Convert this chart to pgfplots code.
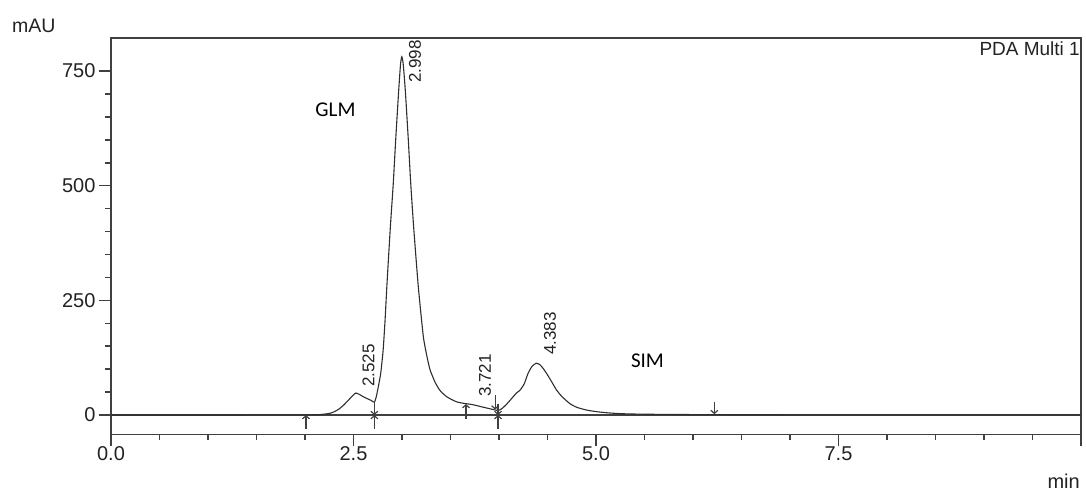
\documentclass[border=0pt]{standalone}
\usepackage{fontspec}
\setmainfont{Liberation Sans}
\newfontfamily\calibri{Carlito}
\usepackage{pgfplots}
\pgfplotsset{compat=1.18}
\usetikzlibrary{arrows.meta}
\definecolor{axisgray}{HTML}{404040}
\definecolor{tracegray}{HTML}{2E2E2E}
\definecolor{labelgray}{HTML}{222222}

\tikzset{
  peaklabel/.style={rotate=90, anchor=west, inner sep=0pt,
    font=\fontsize{17bp}{20bp}\selectfont, text=labelgray},
  compound/.style={font=\calibri\fontsize{21bp}{25bp}\selectfont},
}
\pgfplotsset{
  marker/.style={draw=axisgray, line width=1.2bp, mark=none,
    -{Straight Barb[length=3bp,width=7bp]}},
}

\begin{document}
\begin{tikzpicture}
\begin{axis}[
  scale only axis,
  width=970bp, height=396.3bp,
  xmin=0, xmax=10, ymin=-42, ymax=822,
  axis line style={draw=axisgray, line width=1.5bp},
  xtick={0,2.5,5,7.5,10}, xticklabels={0.0,2.5,5.0,7.5,{}},
  minor x tick num=4,
  ytick={0,250,500,750}, minor y tick num=4,
  tick align=outside, xtick pos=bottom, ytick pos=left,
  major tick length=12bp, minor tick length=6bp,
  every tick/.style={draw=axisgray, line width=1.5bp},
  /pgf/number format/assume math mode=true,
  ticklabel style={font=\fontsize{20bp}{24bp}\selectfont, text=labelgray},
  xticklabel style={yshift=3bp},
  clip=false,
]
% baseline of the integration
\addplot[axisgray, line width=1.5bp, mark=none] coordinates {(0,0) (10,0)};

% PDA trace
\addplot[tracegray, line width=1.1bp, mark=none, smooth, tension=0.35] coordinates {
(0,0) (1.0,0.1) (2.0,0.4) (2.15,1) (2.22,2.5) (2.26,4) (2.30,7) (2.35,13)
(2.40,22) (2.45,33) (2.50,44) (2.525,48) (2.56,45) (2.60,40) (2.64,36)
(2.68,32) (2.715,28) (2.735,40) (2.756,62) (2.78,90) (2.805,140) (2.825,205)
(2.845,285) (2.88,410) (2.91,505) (2.935,600) (2.966,708) (2.985,765) (2.998,781)
(3.012,766) (3.034,708) (3.065,600) (3.09,505) (3.12,410) (3.168,280)
(3.22,171) (3.26,125) (3.29,98) (3.34,72) (3.39,54) (3.46,40) (3.56,29) (3.65,25)
(3.721,23) (3.80,19) (3.90,14) (3.99,10) (4.03,14) (4.08,24) (4.13,36)
(4.18,48) (4.216,54) (4.26,68) (4.30,91) (4.34,106) (4.383,113) (4.42,110)
(4.45,103) (4.49,91) (4.55,70) (4.595,54) (4.65,40) (4.73,25) (4.80,17)
(4.90,11) (5.0,7.5) (5.11,5) (5.25,3) (5.5,1.8) (6.0,1) (6.22,0.8) (7,0.5)
(10,0.3)
};

% integration start / end marks
\addplot[marker] coordinates {(2.01,-30) (2.01,0)};
\addplot[marker] coordinates {(2.715,-30) (2.715,0)};
\addplot[marker] coordinates {(2.715,29) (2.715,0)};
\addplot[marker] coordinates {(3.66,-9) (3.66,24)};
\addplot[marker] coordinates {(3.96,44) (3.96,12)};
\addplot[marker] coordinates {(3.99,-30) (3.99,0)};
\addplot[marker] coordinates {(3.99,25) (3.99,0)};
\addplot[marker] coordinates {(6.22,28) (6.22,2)};

% retention times
\node[peaklabel] at (axis cs:2.655,61) {2.525};
\node[peaklabel] at (axis cs:3.134,724) {2.998};
\node[peaklabel] at (axis cs:3.856,39) {3.721};
\node[peaklabel] at (axis cs:4.526,131) {4.383};

% compound names
\node[compound] at (axis cs:2.314,665) {GLM};
\node[compound] at (axis cs:5.531,118) {SIM};

% channel and units
\node[anchor=north east, inner sep=0pt, xshift=-1bp, yshift=-4bp,
  font=\fontsize{19bp}{23bp}\selectfont, text=labelgray] at (rel axis cs:1,1) {PDA Multi 1};
\node[anchor=base west, inner sep=0pt, xshift=-99bp, yshift=5bp,
  font=\fontsize{19.5bp}{23bp}\selectfont, text=labelgray] at (rel axis cs:0,1) {mAU};
\node[anchor=base east, inner sep=0pt, xshift=-1bp, yshift=-53.7bp,
  font=\fontsize{20bp}{24bp}\selectfont, text=labelgray] at (rel axis cs:1,0) {min};
\end{axis}
\pgfresetboundingbox
\path ([xshift=-111bp,yshift=-56.7bp]current axis.south west)
  rectangle ([xshift=5bp,yshift=38bp]current axis.north east);
\end{tikzpicture}
\end{document}
